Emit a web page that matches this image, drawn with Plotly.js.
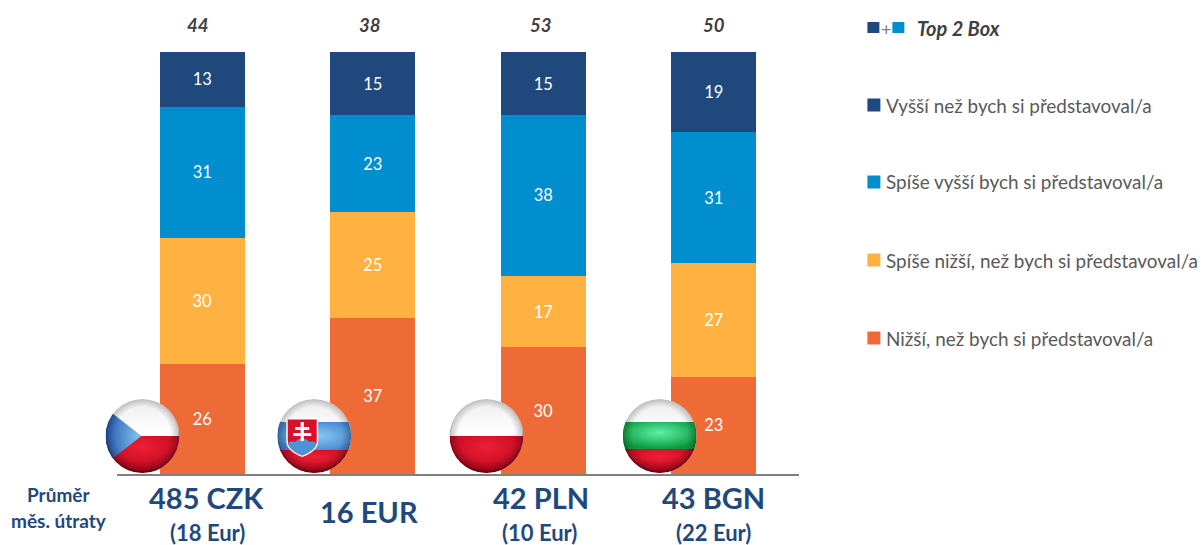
<!DOCTYPE html>
<html><head><meta charset="utf-8">
<script src="https://cdn.plot.ly/plotly-3.0.1.min.js"></script>
<style>html,body{margin:0;padding:0;background:#fff;overflow:hidden}#c{width:1201px;height:545px}</style>
</head><body><div id="c"></div>
<script>
const categories = ["CZ","SK","PL","BG"];
const nizsi = [26,37,30,23];
const spiseNizsi = [30,25,17,27];
const spiseVyssi = [31,23,38,31];
const vyssi = [13,15,15,19];
const top2Box = [44,38,53,50];
const spendMain = ["485 CZK","16 EUR","42 PLN","43 BGN"];
const spendEur = ["(18 Eur)","","(10 Eur)","(22 Eur)"];
const seriesNames = ["Nižší, než bych si představoval/a","Spíše nižší, než bych si představoval/a","Spíše vyšší bych si představoval/a","Vyšší než bych si představoval/a"];
const seriesColors = ["#EE6B38","#FFB142","#008ECE","#1F497D"];

const W=1201,H=545,ML=116.5,MR=401.5,MT=52,MB=71;
const PW=W-ML-MR,PH=H-MT-MB;
const px=x=>(x-ML)/PW, py=y=>1-(y-MT)/PH;
const FONT='Lato, "Open Sans", sans-serif';
const NAVY="#1F497D";

const series=[nizsi,spiseNizsi,spiseVyssi,vyssi];
const traces=series.map((v,i)=>({type:"bar",x:categories,y:v,name:seriesNames[i],
  marker:{color:seriesColors[i],line:{width:0}},text:v.map(String),textposition:"inside",insidetextanchor:"middle",
  textangle:0,constraintext:"none",textfont:{family:FONT,size:16.5,color:"#fff"},hoverinfo:"name+y",showlegend:false}));

const annotations=[],shapes=[];
function txt(x,y,t,size,color,o={}){annotations.push(Object.assign({xref:"paper",yref:"paper",x:px(x),y:py(y),text:t,showarrow:false,
  xanchor:"center",yanchor:"middle",borderpad:0,font:{family:FONT,size,color}},o));}
function sq(x0,x1,y0,y1,c){shapes.push({type:"rect",xref:"paper",yref:"paper",x0:px(x0),x1:px(x1),y0:py(y0),y1:py(y1),fillcolor:c,line:{width:0}});}

const totalX=[197,369,541,714], mainX=[206,369,541,714], eurX=[207,369,540,714];
categories.forEach((c,i)=>{
  txt(totalX[i],25,"<b><i>"+top2Box[i]+"</i></b>",18.5,"#404040");
  txt(mainX[i],spendEur[i]?498:512,"<b>"+spendMain[i]+"</b>",29,NAVY);
  if(spendEur[i]) txt(eurX[i],532,"<b>"+spendEur[i]+"</b>",22,NAVY);
});
txt(58,495,"<b>Průměr</b>",19,NAVY);
txt(58,520,"<b>měs. útraty</b>",19,NAVY);

sq(868,880,22,33,seriesColors[3]);
txt(886.5,29,"+",18,"#7f7f7f");
sq(893,905,22,33,seriesColors[2]);
txt(917,28,"<b><i>Top 2 Box</i></b>",20,"#404040",{xanchor:"left"});
const legendY=[338,260,182,105];
seriesNames.forEach((n,i)=>{
  sq(868,881,legendY[i]-6.5,legendY[i]+6.5,seriesColors[i]);
  txt(886,legendY[i],n,18.9,"#595959",{xanchor:"left"});
});

function flag(inner){
  const s=`<svg xmlns="http://www.w3.org/2000/svg" width="296" height="296" viewBox="0 0 74 74">
<defs><clipPath id="k"><circle cx="37" cy="37" r="37"/></clipPath>
<radialGradient id="e" cx="50%" cy="48%" r="52%"><stop offset="0.72" stop-color="#000" stop-opacity="0"/><stop offset="0.92" stop-color="#000" stop-opacity="0.2"/><stop offset="1" stop-color="#000" stop-opacity="0.6"/></radialGradient>
<radialGradient id="bl" cx="0.9" cy="0.5" r="1"><stop offset="0" stop-color="#7cc0ee"/><stop offset="1" stop-color="#1c4fa8"/></radialGradient>
<radialGradient id="sb" cx="0.55" cy="0.5" r="0.6"><stop offset="0" stop-color="#8ccaf2"/><stop offset="1" stop-color="#3f82cc"/></radialGradient>
<radialGradient id="gr" cx="0.5" cy="0.4" r="0.6"><stop offset="0" stop-color="#5ef0a8"/><stop offset="1" stop-color="#0d9a3e"/></radialGradient>
<linearGradient id="wh" x1="0" y1="0" x2="0" y2="1"><stop offset="0" stop-color="#ececec"/><stop offset="0.45" stop-color="#ffffff"/></linearGradient>
<radialGradient id="rd" cx="0.5" cy="0.3" r="0.8"><stop offset="0" stop-color="#ee2036"/><stop offset="1" stop-color="#b00018"/></radialGradient>
</defs><g clip-path="url(#k)"><rect width="74" height="74" fill="url(#wh)"/>${inner}<circle cx="37" cy="37" r="37" fill="url(#e)"/></g></svg>`;
  return "data:image/svg+xml;charset=utf-8,"+encodeURIComponent(s);
}
const flagCZ=flag(`<rect y="37" width="74" height="37" fill="url(#rd)"/><path d="M0,9 L36,37 L0,65 Z" fill="url(#bl)"/>`);
const flagSK=flag(`<rect y="23" width="74" height="28" fill="url(#sb)"/><rect y="51" width="74" height="23" fill="url(#rd)"/>
<path d="M9,19 H41 V42 Q41,52 25,58 Q9,52 9,42 Z" fill="#fff"/>
<path d="M10.5,20.5 H39.5 V42 Q39.5,51 25,56.4 Q10.5,51 10.5,42 Z" fill="#d8102a"/>
<path d="M10.5,44 Q14,41 18,43 Q21,39 25,40 Q29,39 32,43 Q36,41 39.5,44 Q38,51 25,56.4 Q12,51 10.5,44 Z" fill="#4f92d8"/>
<path d="M23.4,23 H26.6 V28 H32 V31 H26.6 V34 H34 V37 H26.6 V42 H23.4 V37 H16 V34 H23.4 V31 H18 V28 H23.4 Z" fill="#fff"/>`);
const flagPL=flag(`<rect y="37" width="74" height="37" fill="url(#rd)"/>`);
const flagBG=flag(`<rect y="23" width="74" height="27" fill="url(#gr)"/><rect y="50" width="74" height="24" fill="url(#rd)"/>`);
const flagSources=[flagCZ,flagSK,flagPL,flagBG], flagX=[142,314,486.5,660];
const images=flagSources.map((s,i)=>({source:s,xref:"paper",yref:"paper",x:px(flagX[i]-37),y:py(399),sizex:74/PW,sizey:74/PH,
  xanchor:"left",yanchor:"top",sizing:"stretch",layer:"above"}));

Plotly.newPlot("c",traces,{
  width:W,height:H,barmode:"stack",bargap:0.5,showlegend:false,
  margin:{l:ML,r:MR,t:MT,b:MB,pad:0},paper_bgcolor:"#fff",plot_bgcolor:"#fff",
  font:{family:FONT},
  xaxis:{type:"category",categoryorder:"array",categoryarray:categories,showticklabels:false,ticks:"",showgrid:false,zeroline:false,
    showline:true,linecolor:"#808080",linewidth:1.5,fixedrange:true},
  yaxis:{range:[0,100],visible:false,showgrid:false,zeroline:false,fixedrange:true},
  annotations,shapes,images
},{displayModeBar:false,responsive:false});
</script></body></html>
